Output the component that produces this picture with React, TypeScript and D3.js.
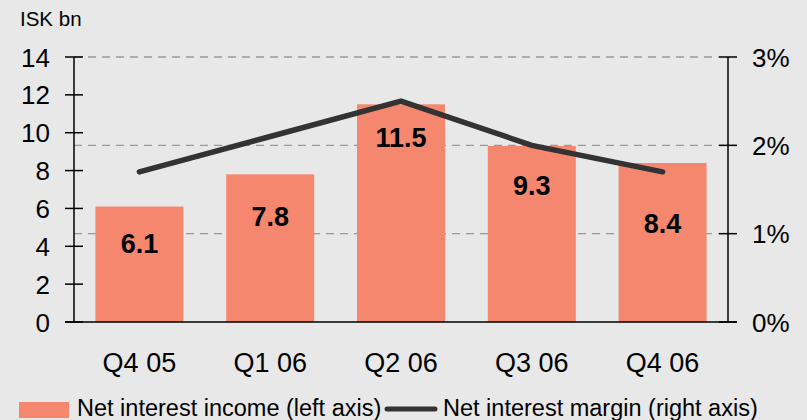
import React from "react";
import * as d3 from "d3";

const categories = ["Q4 05", "Q1 06", "Q2 06", "Q3 06", "Q4 06"];
const netInterestIncome = [6.1, 7.8, 11.5, 9.3, 8.4];
const netInterestMargin = [0.017, 0.021, 0.025, 0.02, 0.017];
// vertical anchor (left-axis units) for the value labels' baselines
const labelAnchor = [3.65, 5.07, 9.27, 6.71, 4.7];
const leftTicks = [0, 2, 4, 6, 8, 10, 12, 14];
const rightTicks = [0, 0.01, 0.02, 0.03];

const W = 807;
const H = 420;
const xL = 74;
const xR = 728;
const yB = 322;
const yT = 57;
const FONT = "'Liberation Sans', Arial, Helvetica, sans-serif";
const BAR = "#F5876F";
const LINE = "#333333";

export default function App() {
  const x = d3
    .scaleBand<string>()
    .domain(categories)
    .range([xL, xR])
    .paddingInner(0.327)
    .paddingOuter(0.1635);
  const yl = d3.scaleLinear().domain([0, 14]).range([yB, yT]);
  const yr = d3.scaleLinear().domain([0, 0.03]).range([yB, yT]);
  const line = d3
    .line<number>()
    .x((_, i) => (x(categories[i]) as number) + x.bandwidth() / 2)
    .y((d) => yr(d));

  return (
    <svg
      width={W}
      height={H}
      style={{ position: "absolute", left: 0, top: 0, display: "block" }}
      fontFamily={FONT}
    >
      <rect x={0} y={0} width={W} height={H} fill="#E8E8E8" />
      {/* gridlines */}
      {rightTicks
        .filter((t) => t > 0)
        .map((t) => (
          <line
            key={"g" + t}
            x1={xL}
            x2={xR - 9}
            y1={yr(t)}
            y2={yr(t)}
            stroke="#999"
            strokeWidth={1.3}
            strokeDasharray="8 6"
          />
        ))}
      {/* bars */}
      {categories.map((c, i) => (
        <rect
          key={c}
          x={x(c)}
          y={yl(netInterestIncome[i])}
          width={x.bandwidth()}
          height={yB - yl(netInterestIncome[i])}
          fill={BAR}
        />
      ))}
      {/* line */}
      <path
        d={line(netInterestMargin) || ""}
        fill="none"
        stroke={LINE}
        strokeWidth={5.5}
        strokeLinecap="round"
        strokeLinejoin="miter"
      />
      {/* value labels */}
      {categories.map((c, i) => (
        <text
          key={"v" + c}
          x={(x(c) as number) + x.bandwidth() / 2}
          y={yl(labelAnchor[i])}
          textAnchor="middle"
          fontWeight="bold"
          fontSize={27}
          fill="#000"
        >
          {netInterestIncome[i]}
        </text>
      ))}
      {/* axes */}
      <line x1={xL} x2={xL} y1={yT} y2={yB} stroke="#000" strokeWidth={1.5} />
      <line x1={xR} x2={xR} y1={yT} y2={yB} stroke="#000" strokeWidth={1.5} />
      <line x1={xL - 9} x2={xR + 9} y1={yB} y2={yB} stroke="#000" strokeWidth={1.5} />
      {leftTicks.map((t) => (
        <g key={"l" + t}>
          <line x1={xL - 9} x2={xL + 9} y1={yl(t)} y2={yl(t)} stroke="#000" strokeWidth={1.5} />
          <text x={50} y={yl(t) + 9.5} textAnchor="end" fontSize={26} fill="#000">
            {t}
          </text>
        </g>
      ))}
      {rightTicks.map((t) => (
        <g key={"r" + t}>
          <line x1={xR - 9} x2={xR + 9} y1={yr(t)} y2={yr(t)} stroke="#000" strokeWidth={1.5} />
          <text x={752} y={yr(t) + 9.5} textAnchor="start" fontSize={26} fill="#000">
            {d3.format(".0%")(t)}
          </text>
        </g>
      ))}
      {categories.map((c) => (
        <text
          key={"x" + c}
          x={(x(c) as number) + x.bandwidth() / 2}
          y={372}
          textAnchor="middle"
          fontSize={27}
          fill="#000"
        >
          {c}
        </text>
      ))}
      <text x={20} y={26} fontSize={20.5} fill="#000">
        ISK bn
      </text>
      {/* legend */}
      <rect x={19} y={402} width={50} height={16} fill={BAR} />
      <text x={77} y={416} fontSize={23.5} fill="#000">
        Net interest income (left axis)
      </text>
      <line x1={387} x2={435} y1={409} y2={409} stroke={LINE} strokeWidth={5} strokeLinecap="round" />
      <text x={443} y={416} fontSize={23.5} fill="#000">
        Net interest margin (right axis)
      </text>
    </svg>
  );
}
